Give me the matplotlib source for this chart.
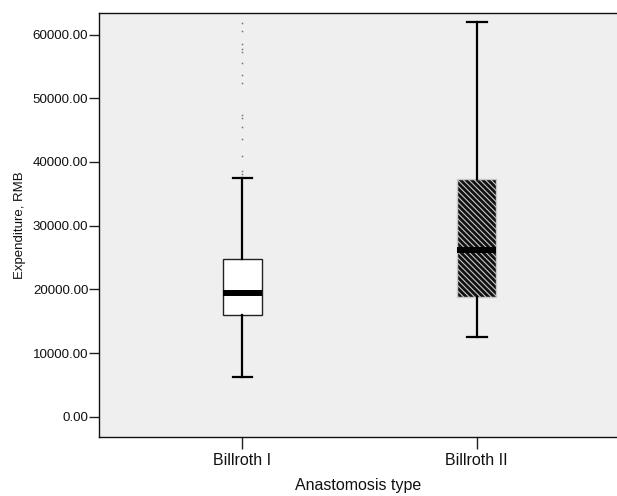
import matplotlib
matplotlib.use('Agg')
import matplotlib.pyplot as plt

plt.rcParams['font.family'] = ['Liberation Sans', 'DejaVu Sans']
plt.rcParams['hatch.linewidth'] = 0.8

# values
groups = ['Billroth I', 'Billroth II']
whisker_low = [6250, 12450]
q1 = [15950, 18750]
median = [19450, 26250]
q3 = [24750, 37300]
whisker_high = [37450, 61950]
outliers_b1 = [61750, 60600, 58450, 57750, 57200, 55500, 53600, 52450,
               47300, 46850, 45550, 43550, 40950, 38500, 38100]
outliers_b2 = []
yticks = [0, 10000, 20000, 30000, 40000, 50000, 60000]

stats = []
for i, g in enumerate(groups):
    stats.append(dict(label=g, whislo=whisker_low[i], q1=q1[i], med=median[i],
                      q3=q3[i], whishi=whisker_high[i],
                      fliers=[outliers_b1, outliers_b2][i]))

fig = plt.figure(figsize=(6.17, 4.96), dpi=100)
ax = fig.add_axes([99 / 617, 1 - 437.3 / 496, 1 - 99 / 617, (437.3 - 13) / 496])
ax.set_facecolor('#efefef')

bp = ax.bxp(stats, positions=[0, 1], widths=0.168, patch_artist=True,
            showfliers=True,
            boxprops=dict(facecolor='white', edgecolor='#222222', linewidth=1.0),
            medianprops=dict(color='black', linewidth=4.3, solid_capstyle='butt'),
            whiskerprops=dict(color='black', linewidth=1.6),
            capprops=dict(color='black', linewidth=1.6),
            capwidths=0.083,
            flierprops=dict(marker='s', markersize=1.1, markerfacecolor='#777777',
                            markeredgecolor='none', linestyle='none'))

b2 = bp['boxes'][1]
b2.set_facecolor('#111111')
b2.set_edgecolor('#c8c8c8')
b2.set_hatch('\\' * 6)

ax.set_xlim(-0.611, 1.598)
ax.set_ylim(-3230, 63380)
ax.set_yticks(yticks)
ax.set_yticklabels([f'{t:.2f}' for t in yticks])
ax.set_xticks([0, 1])
ax.set_xticklabels(groups)
ax.tick_params(axis='y', length=7.2, width=1, color='#222222', labelsize=9.6,
               labelcolor='#111111', pad=0.5)
ax.tick_params(axis='x', length=8.5, width=1, color='#222222', labelsize=11.5,
               labelcolor='#111111', pad=3)
ax.spines['right'].set_visible(False)
for s in ['left', 'top', 'bottom']:
    ax.spines[s].set_linewidth(1.0)
    ax.spines[s].set_color('#111111')

ax.set_xlabel('Anastomosis type', fontsize=11.5, labelpad=7, color='#111111')
ax.set_ylabel('Expenditure, RMB', fontsize=9.5, labelpad=5, color='#111111')

fig.savefig('out.png', dpi=100)
